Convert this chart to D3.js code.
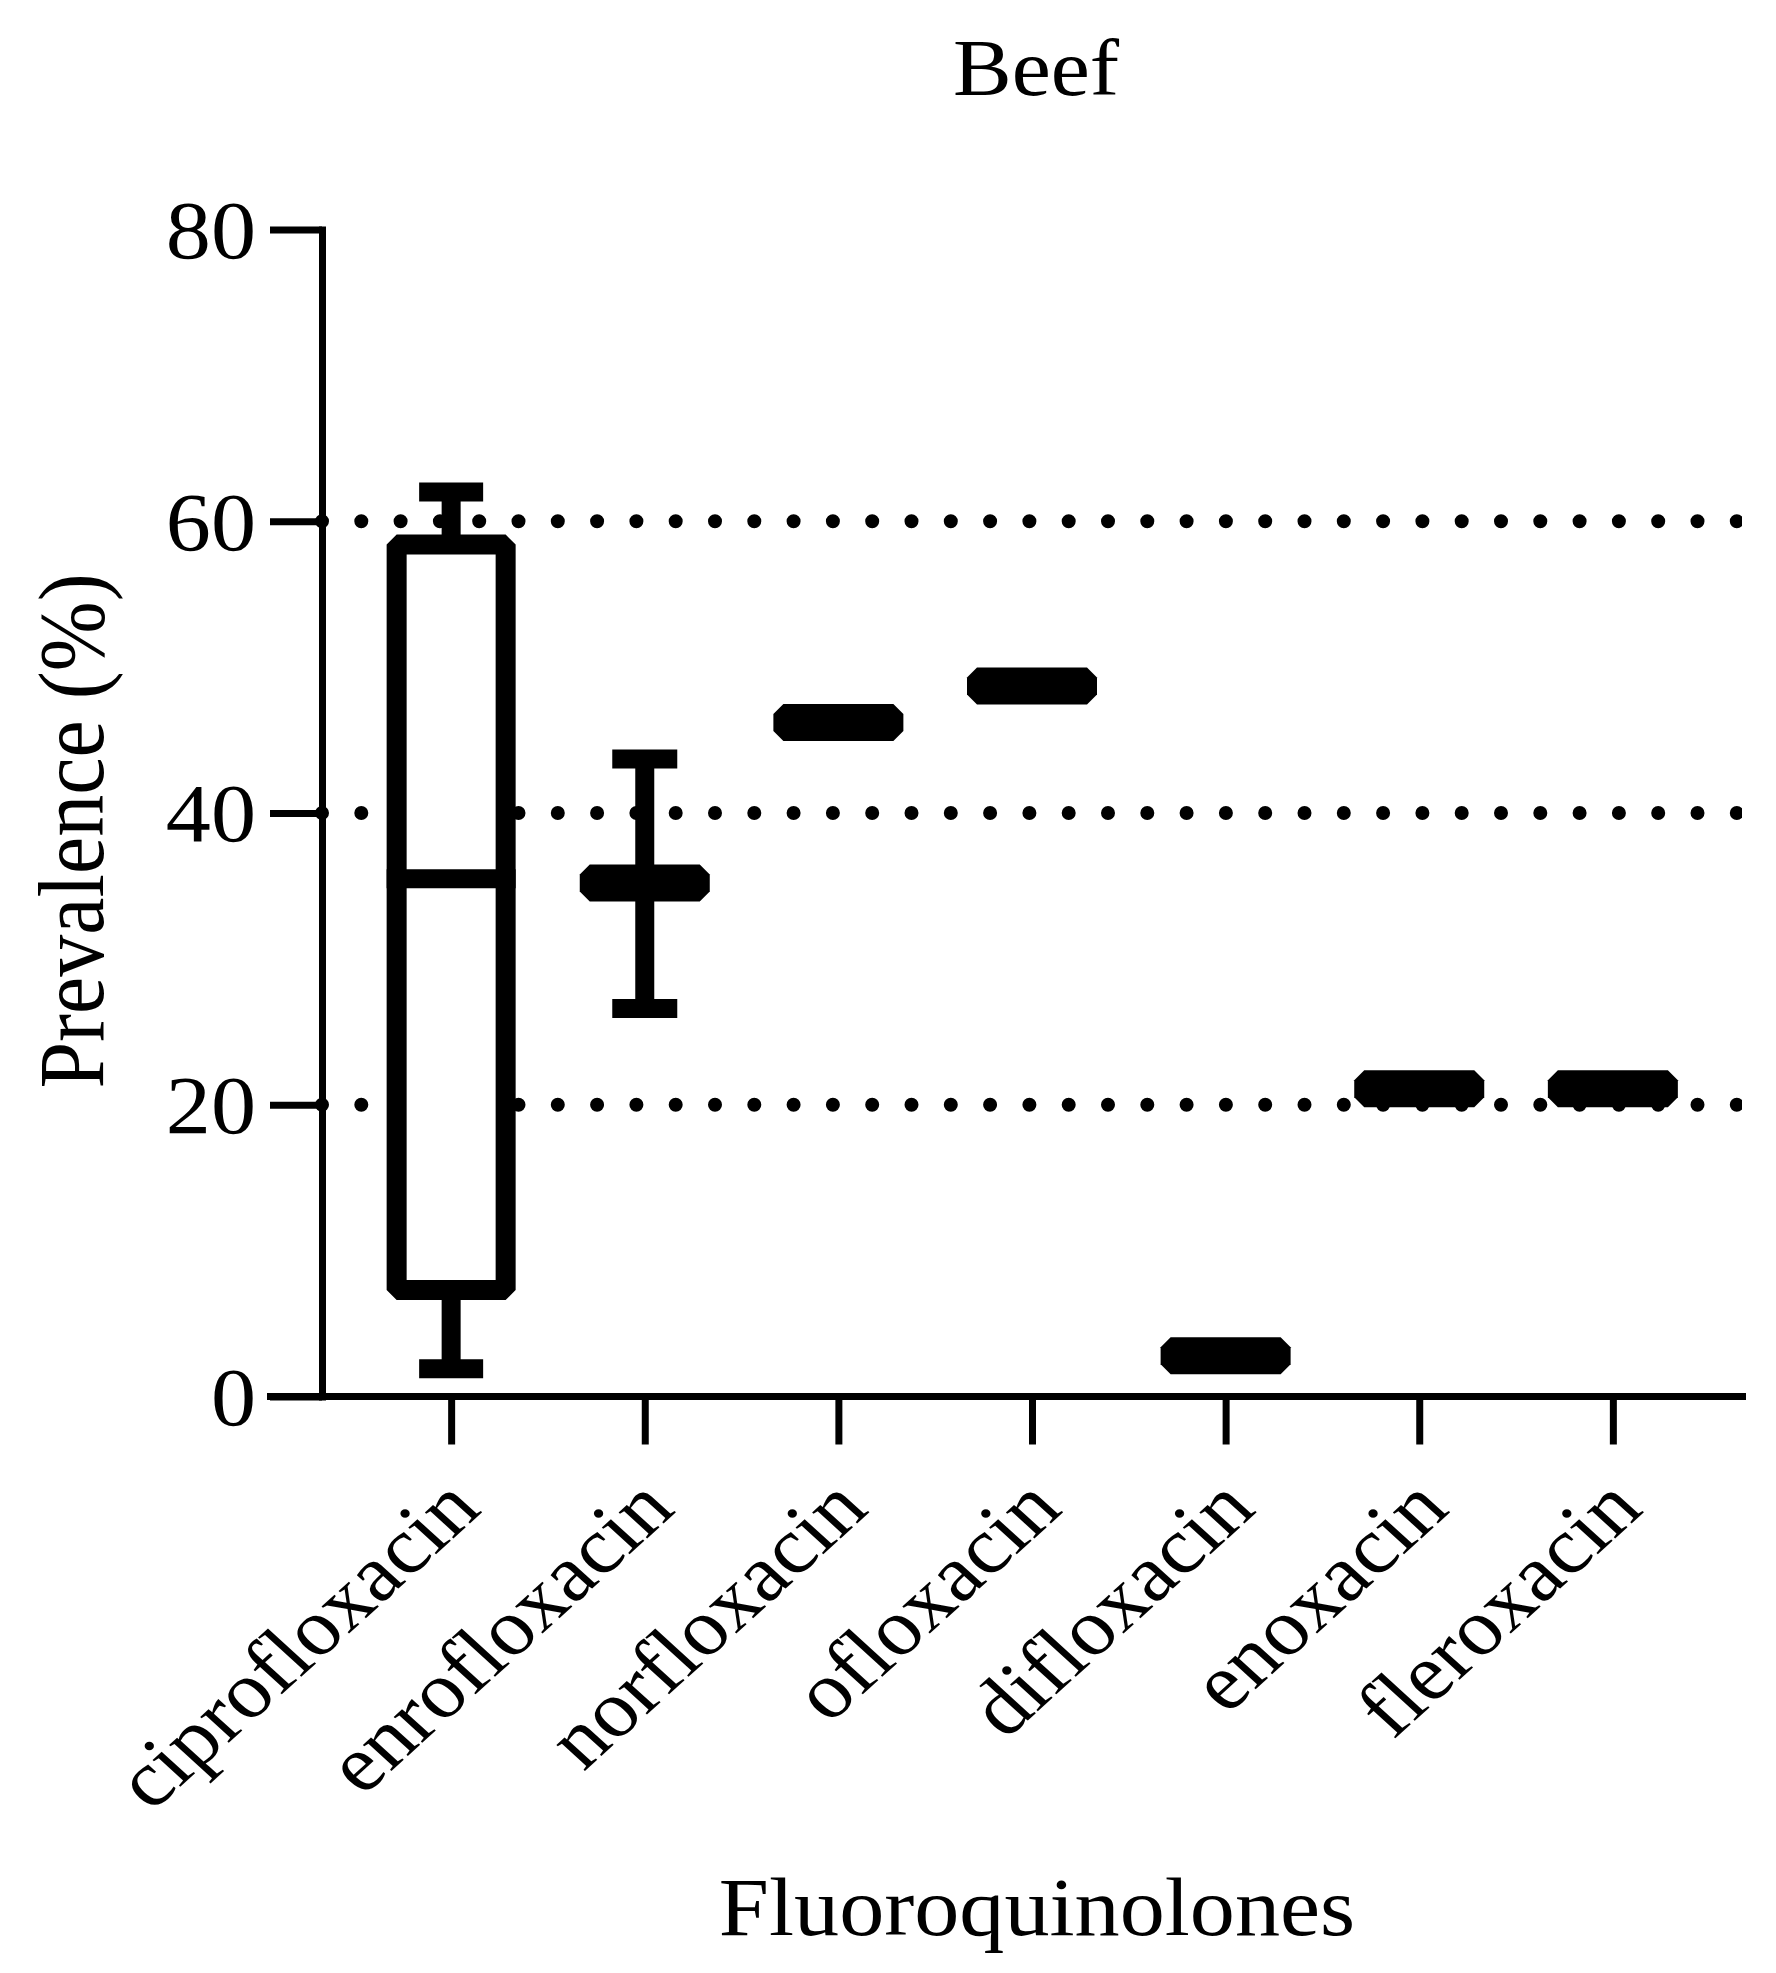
<!DOCTYPE html>
<html>
<head>
<meta charset="utf-8">
<script src="https://cdn.jsdelivr.net/npm/d3@7"></script>
<style>
  html, body { margin: 0; padding: 0; background: #ffffff; }
  svg { display: block; }
  text { font-family: "Liberation Serif", "Times New Roman", serif; fill: #000; }
</style>
</head>
<body>
<svg id="chart" width="1776" height="1973"></svg>
<script>
// ---------------- data ----------------
const chartTitle = "Beef";
const xTitle = "Fluoroquinolones";
const yTitle = "Prevalence (%)";
const categories = ["ciprofloxacin", "enrofloxacin", "norfloxacin", "ofloxacin", "difloxacin", "enoxacin", "fleroxacin"];
const yTicks = [0, 20, 40, 60, 80];
const gridValues = [20, 40, 60];

// box-and-whisker (ciprofloxacin)
const boxCategories = ["ciprofloxacin"];
const boxWhiskerLow = [1.9];
const boxQ1 = [7.3];
const boxMedian = [35.5];
const boxQ3 = [58.4];
const boxWhiskerHigh = [62.0];

// mean (with optional error bars) for the others
const meanCategories = ["enrofloxacin", "norfloxacin", "ofloxacin", "difloxacin", "enoxacin", "fleroxacin"];
const meanValues = [35.2, 46.2, 48.7, 2.8, 21.1, 21.1];
const errLow = [26.6, null, null, null, null, null];
const errHigh = [43.7, null, null, null, null, null];

// ---------------- layout ----------------
const W = 1776, H = 1973;
const plotLeft = 322, plotRight = 1742, plotTop = 229.5, plotBottom = 1396.5;
const axisW = 7, yTickLen = 52, xTickLen = 48;
const SX = 1.1; // horizontal text stretch
const boxWidth = 109, boxStroke = 20, capWidth = 64, whiskerStroke = 19;
const meanWidth = 130, meanHeight = 37, meanChamfer = 10;

const svg = d3.select("#chart");
svg.append("rect").attr("width", W).attr("height", H).attr("fill", "#fff");

const x = d3.scalePoint().domain(categories).range([plotLeft, plotRight]).padding(0.667);
const y = d3.scaleLinear().domain([0, 80]).range([plotBottom, plotTop]);

// clip for dotted gridlines
svg.append("defs").append("clipPath").attr("id", "gridclip")
  .append("rect").attr("x", 0).attr("y", 0).attr("width", plotRight).attr("height", H);

// ---------------- gridlines ----------------
svg.append("g").attr("clip-path", "url(#gridclip)")
  .selectAll("line").data(gridValues).join("line")
  .attr("x1", plotLeft).attr("x2", plotRight + 40)
  .attr("y1", d => y(d)).attr("y2", d => y(d))
  .attr("stroke", "#000").attr("stroke-width", 14)
  .attr("stroke-linecap", "round")
  .attr("stroke-dasharray", "0 39.3");

// ---------------- box plot ----------------
const boxG = svg.append("g");
boxCategories.forEach((c, i) => {
  const cx = x(c);
  // whiskers
  boxG.append("line").attr("x1", cx).attr("x2", cx)
    .attr("y1", y(boxWhiskerHigh[i])).attr("y2", y(boxQ3[i]))
    .attr("stroke", "#000").attr("stroke-width", whiskerStroke);
  boxG.append("line").attr("x1", cx).attr("x2", cx)
    .attr("y1", y(boxWhiskerLow[i])).attr("y2", y(boxQ1[i]))
    .attr("stroke", "#000").attr("stroke-width", whiskerStroke);
  [boxWhiskerHigh[i], boxWhiskerLow[i]].forEach(v => {
    boxG.append("line").attr("x1", cx - capWidth / 2).attr("x2", cx + capWidth / 2)
      .attr("y1", y(v)).attr("y2", y(v))
      .attr("stroke", "#000").attr("stroke-width", whiskerStroke);
  });
  // box
  boxG.append("rect")
    .attr("x", cx - boxWidth / 2).attr("width", boxWidth)
    .attr("y", y(boxQ3[i])).attr("height", y(boxQ1[i]) - y(boxQ3[i]))
    .attr("fill", "#fff").attr("stroke", "#000")
    .attr("stroke-width", boxStroke).attr("stroke-linejoin", "bevel");
  // median
  boxG.append("line")
    .attr("x1", cx - boxWidth / 2 - boxStroke / 2).attr("x2", cx + boxWidth / 2 + boxStroke / 2)
    .attr("y1", y(boxMedian[i])).attr("y2", y(boxMedian[i]))
    .attr("stroke", "#000").attr("stroke-width", whiskerStroke);
});

// ---------------- means with error bars ----------------
const meanG = svg.append("g");
meanCategories.forEach((c, i) => {
  const cx = x(c);
  if (errLow[i] != null && errHigh[i] != null) {
    meanG.append("line").attr("x1", cx).attr("x2", cx)
      .attr("y1", y(errHigh[i])).attr("y2", y(errLow[i]))
      .attr("stroke", "#000").attr("stroke-width", whiskerStroke);
    [errHigh[i], errLow[i]].forEach(v => {
      meanG.append("line").attr("x1", cx - capWidth / 2 - 0.5).attr("x2", cx + capWidth / 2 + 0.5)
        .attr("y1", y(v)).attr("y2", y(v))
        .attr("stroke", "#000").attr("stroke-width", whiskerStroke);
    });
  }
  const s = meanChamfer * 2;
  meanG.append("rect")
    .attr("x", cx - (meanWidth - s) / 2).attr("width", meanWidth - s)
    .attr("y", y(meanValues[i]) - (meanHeight - s) / 2).attr("height", meanHeight - s)
    .attr("fill", "#000").attr("stroke", "#000")
    .attr("stroke-width", s).attr("stroke-linejoin", "bevel");
});

// ---------------- axes ----------------
const yAxisG = svg.append("g").attr("transform", `translate(${plotLeft},0)`)
  .call(d3.axisLeft(y).tickValues(yTicks).tickSize(yTickLen).tickSizeOuter(0).tickPadding(0).tickFormat(d3.format("d")));
yAxisG.select(".domain").attr("stroke", "#000").attr("stroke-width", axisW).attr("stroke-linecap", "square");
yAxisG.selectAll(".tick line").attr("stroke", "#000").attr("stroke-width", axisW);
yAxisG.selectAll(".tick text")
  .attr("x", null).attr("dy", "0.34em")
  .attr("transform", `translate(${-(yTickLen + 14)},0) scale(${SX},1)`)
  .attr("text-anchor", "end")
  .style("font-family", "'Liberation Serif', 'Times New Roman', serif")
  .style("font-size", "82px").attr("fill", "#000");

const xAxisG = svg.append("g").attr("transform", `translate(0,${plotBottom})`)
  .call(d3.axisBottom(x).tickSize(xTickLen).tickSizeOuter(0).tickFormat(""));
xAxisG.select(".domain")
  .attr("d", `M${plotLeft - yTickLen - axisW / 2 + 0.5},0H${plotRight + 4}`)
  .attr("stroke", "#000").attr("stroke-width", axisW);
xAxisG.selectAll(".tick line").attr("stroke", "#000").attr("stroke-width", axisW);
xAxisG.selectAll(".tick text").remove();

// rotated category labels
svg.append("g").selectAll("text").data(categories).join("text")
  .attr("transform", d => `translate(${x(d) + 32},${plotBottom + 115}) scale(${SX},1) rotate(-45)`)
  .attr("text-anchor", "end")
  .style("font-size", "80px")
  .text(d => d);

// titles
svg.append("text")
  .attr("transform", `translate(1036,95) scale(${SX},1)`)
  .attr("text-anchor", "middle").style("font-size", "80px")
  .text(chartTitle);

svg.append("text")
  .attr("transform", `translate(1037,1935) scale(${SX},1)`)
  .attr("text-anchor", "middle").style("font-size", "82px")
  .text(xTitle);

svg.append("text")
  .attr("transform", `translate(103,${(572 + 1090) / 2}) scale(${SX},1) rotate(-90)`)
  .attr("text-anchor", "middle").style("font-size", "84px")
  .text(yTitle);
</script>
</body>
</html>
